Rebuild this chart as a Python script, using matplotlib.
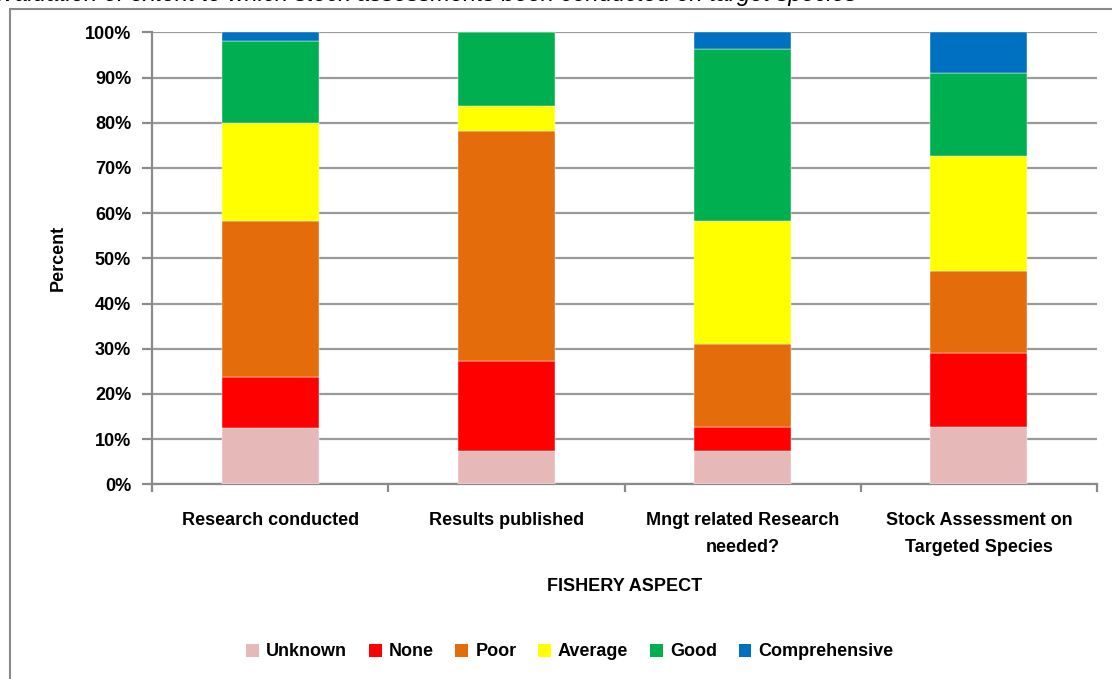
import numpy as np
import matplotlib.pyplot as plt
from matplotlib.patches import Rectangle, Patch
import matplotlib.ticker as mticker

# data (percent of responses)
categories = ["Research conducted", "Results published",
              "Mngt related Research\nneeded?", "Stock Assessment on\nTargeted Species"]
levels = ["Unknown", "None", "Poor", "Average", "Good", "Comprehensive"]
unknown = [12.5, 7.4, 7.4, 12.6]
none = [11.2, 19.9, 5.2, 16.5]
poor = [34.5, 50.9, 18.4, 18.1]
average = [21.8, 5.5, 27.3, 25.4]
good = [18.1, 16.3, 37.9, 18.5]
comprehensive = [1.9, 0.0, 3.8, 8.9]
colors = ["#E6B9B8", "#FF0000", "#E46C0A", "#FFFF00", "#00B050", "#0070C0"]

plt.rcParams["font.family"] = ["Liberation Sans", "DejaVu Sans"]

fig = plt.figure(figsize=(11.12, 6.79), dpi=100)
ax = fig.add_axes([152/1112, 1 - 484.3/679, (1097-152)/1112, (484.3-32.3)/679])

# outer chart border (cut off on the right / bottom)
fig.patches.append(Rectangle((10/1112, -0.2), 1.5, 1.2 - 8.5/679, transform=fig.transFigure,
                             fill=False, edgecolor="#8a8a8a", lw=1.5, zorder=0))

# cut-off italic title at the very top
fig.text(857/1112, 1 - 0.5/679, "Evaluation of extent to which stock assessments been conducted on target species",
         ha="right", va="baseline", style="italic", fontsize=17)

series = [unknown, none, poor, average, good, comprehensive]
x = np.arange(len(categories))
bottom = np.zeros(len(categories))
for vals, col, name in zip(series, colors, levels):
    v = np.array(vals) / 100
    ax.bar(x, v, width=0.41, bottom=bottom, color=col, label=name, zorder=3,
           edgecolor="white", linewidth=0.3)
    bottom += v

ax.set_xlim(-0.5, len(categories) - 0.5)
ax.set_ylim(0, 1)
ax.set_yticks(np.arange(0, 1.01, 0.1))
ax.yaxis.set_major_formatter(mticker.PercentFormatter(1.0, decimals=0))
ax.grid(axis="y", color="#9a9a9a", lw=1.6, zorder=0)
for s in ["top", "right"]:
    ax.spines[s].set_visible(False)
for s in ["left", "bottom"]:
    ax.spines[s].set_color("#8a8a8a")
    ax.spines[s].set_linewidth(1.6)

ax.set_xticks(x)
ax.set_xticklabels(categories, fontsize=13, fontweight="bold", linespacing=1.75)
ax.tick_params(axis="x", length=0, pad=20)
ax.set_xticks(np.arange(-0.5, len(categories), 1), minor=True)
ax.tick_params(axis="x", which="minor", length=6, width=1.6, color="#8a8a8a", direction="out")
ax.tick_params(axis="y", length=7, width=1.6, color="#8a8a8a", labelsize=13, pad=8)
for t in ax.get_yticklabels():
    t.set_fontweight("bold")

ax.set_ylabel("Percent", fontsize=13, fontweight="bold", labelpad=13)
ax.set_xlabel("FISHERY ASPECT", fontsize=13, fontweight="bold", labelpad=16)

handles = [Patch(facecolor=c, label=l) for c, l in zip(colors, levels)]
fig.legend(handles=handles, loc="center", bbox_to_anchor=(570/1112, 1 - 652/679), ncol=6,
           frameon=False, prop={"weight": "bold", "size": 13}, handlelength=0.7, handleheight=0.7,
           handletextpad=0.4, columnspacing=1.2)

plt.savefig("out.png", dpi=100)
plt.close("all")
